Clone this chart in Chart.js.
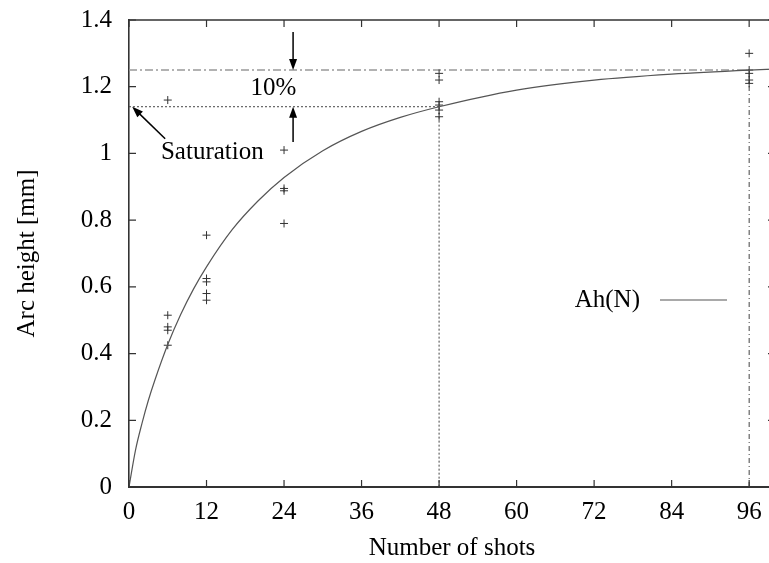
<!DOCTYPE html>
<html>
<head>
<meta charset="utf-8">
<script src="https://cdn.jsdelivr.net/npm/chart.js@4/dist/chart.umd.min.js"></script>
<style>
    html, body { margin: 0; padding: 0; background: #fff; overflow: hidden; }
    #wrap { width: 769px; height: 563px; overflow: hidden; }
    canvas { display: block; }
</style>
</head>
<body>
<div id="wrap"><canvas id="arcChart" width="800" height="563"></canvas></div>
<script>
// Axis ticks
const xTicks = [0, 12, 24, 36, 48, 60, 72, 84, 96];
const yTicks = [0, 0.2, 0.4, 0.6, 0.8, 1, 1.2, 1.4];

// Fitted curve Ah(N)
const curveShots  = [0, 1, 2, 3, 4, 6, 8, 10, 12, 16, 20, 24, 30, 36, 42, 48, 60, 72, 84, 96, 100];
const curveHeight = [0, 0.11, 0.19, 0.26, 0.32, 0.427, 0.517, 0.594, 0.66, 0.772, 0.858, 0.928, 1.008, 1.066,
                     1.108, 1.14, 1.19, 1.22, 1.238, 1.25, 1.253];

// Measured arc heights
const measShots  = [6, 6, 6, 6, 6, 12, 12, 12, 12, 12, 24, 24, 24, 24, 48, 48, 48, 48, 48, 48, 96, 96, 96, 96, 96];
const measHeight = [1.16, 0.515, 0.48, 0.47, 0.425, 0.755, 0.625, 0.615, 0.58, 0.56, 1.01, 0.895, 0.888, 0.79,
                    1.24, 1.22, 1.155, 1.145, 1.13, 1.11, 1.30, 1.25, 1.24, 1.22, 1.21];

// Reference levels
const saturationShots = 48;
const saturationHeight = 1.14;
const plateauShots = 96;
const plateauHeight = 1.25;

const FONT = "'Liberation Serif', 'DejaVu Serif', serif";
const FONT_SIZE = 25;

function pts(xs, ys) {
    return xs.map((x, i) => ({ x: x, y: ys[i] }));
}

// Inward ticks on all four sides, top/right frame, arrows, labels and legend
const decorPlugin = {
    id: 'decor',
    afterDatasetsDraw(chart) {
        const ctx = chart.ctx;
        const a = chart.chartArea;
        const xs = chart.scales.x;
        const ys = chart.scales.y;
        const tl = 7;

        ctx.save();
        ctx.strokeStyle = '#333';
        ctx.lineWidth = 1.6;
        ctx.beginPath();
        ctx.moveTo(a.left, a.top);
        ctx.lineTo(a.right, a.top);
        ctx.lineTo(a.right, a.bottom);
        ctx.stroke();

        ctx.lineWidth = 1.2;
        ctx.beginPath();
        xTicks.forEach(v => {
            const px = xs.getPixelForValue(v);
            ctx.moveTo(px, a.bottom);
            ctx.lineTo(px, a.bottom - tl);
            ctx.moveTo(px, a.top);
            ctx.lineTo(px, a.top + tl);
        });
        yTicks.forEach(v => {
            const py = ys.getPixelForValue(v);
            ctx.moveTo(a.left, py);
            ctx.lineTo(a.left + tl, py);
            ctx.moveTo(a.right, py);
            ctx.lineTo(a.right - tl, py);
        });
        ctx.stroke();

        // arrows
        function arrow(x1, y1, x2, y2) {
            const p1 = { x: xs.getPixelForValue(x1), y: ys.getPixelForValue(y1) };
            const p2 = { x: xs.getPixelForValue(x2), y: ys.getPixelForValue(y2) };
            const ang = Math.atan2(p2.y - p1.y, p2.x - p1.x);
            const hl = 11, hw = 4;
            ctx.strokeStyle = '#000';
            ctx.fillStyle = '#000';
            ctx.lineWidth = 1.5;
            ctx.beginPath();
            ctx.moveTo(p1.x, p1.y);
            ctx.lineTo(p2.x - Math.cos(ang) * hl * 0.8, p2.y - Math.sin(ang) * hl * 0.8);
            ctx.stroke();
            ctx.beginPath();
            ctx.moveTo(p2.x, p2.y);
            ctx.lineTo(p2.x - Math.cos(ang) * hl - Math.sin(ang) * hw, p2.y - Math.sin(ang) * hl + Math.cos(ang) * hw);
            ctx.lineTo(p2.x - Math.cos(ang) * hl + Math.sin(ang) * hw, p2.y - Math.sin(ang) * hl - Math.cos(ang) * hw);
            ctx.closePath();
            ctx.fill();
        }
        arrow(25.4, 1.364, 25.4, plateauHeight);
        arrow(25.4, 1.034, 25.4, saturationHeight);
        arrow(5.6, 1.044, 0.5, saturationHeight);

        ctx.fillStyle = '#000';
        ctx.font = FONT_SIZE + 'px ' + FONT;
        ctx.textBaseline = 'middle';
        ctx.textAlign = 'right';
        ctx.fillText('10%', xs.getPixelForValue(25.9), ys.getPixelForValue(1.196));
        ctx.textAlign = 'center';
        ctx.fillText('Saturation', xs.getPixelForValue(12.9), ys.getPixelForValue(1.004));

        // legend
        ctx.textAlign = 'right';
        ctx.fillText('Ah(N)', 640, 300);
        ctx.strokeStyle = '#555';
        ctx.lineWidth = 1.2;
        ctx.beginPath();
        ctx.moveTo(660, 300);
        ctx.lineTo(727, 300);
        ctx.stroke();
        ctx.restore();
    }
};

new Chart(document.getElementById('arcChart'), {
    type: 'line',
    data: {
        datasets: [
            {
                label: 'Ah(N)',
                data: pts(curveShots, curveHeight),
                borderColor: '#555',
                borderWidth: 1.2,
                pointRadius: 0,
                cubicInterpolationMode: 'monotone',
                fill: false
            },
            {
                type: 'scatter',
                label: 'measured',
                data: pts(measShots, measHeight),
                pointStyle: 'cross',
                pointRadius: 4,
                borderColor: '#333',
                borderWidth: 1
            },
            {
                label: 'plateau',
                data: [{ x: 0, y: plateauHeight }, { x: plateauShots, y: plateauHeight }],
                borderColor: '#999',
                borderWidth: 1.5,
                borderDash: [8, 3, 2, 3],
                pointRadius: 0
            },
            {
                label: 'saturation',
                data: [{ x: 0, y: saturationHeight }, { x: saturationShots, y: saturationHeight }, { x: saturationShots, y: 0 }],
                borderColor: '#444',
                borderWidth: 1,
                borderDash: [2, 2],
                pointRadius: 0
            },
            {
                label: 'plateau shots',
                data: [{ x: plateauShots, y: 0 }, { x: plateauShots, y: plateauHeight }],
                borderColor: '#444',
                borderWidth: 1,
                borderDash: [5, 3, 1, 3],
                pointRadius: 0
            }
        ]
    },
    options: {
        responsive: false,
        animation: false,
        layout: { padding: { left: 0, top: 20, right: 25, bottom: 0 } },
        plugins: {
            legend: { display: false },
            tooltip: { enabled: false }
        },
        scales: {
            x: {
                type: 'linear',
                min: 0,
                max: 100,
                afterBuildTicks: function(scale) {
                    scale.ticks = xTicks.map(v => ({ value: v }));
                },
                afterFit: function(scale) {
                    scale.height = 76;
                    scale.paddingLeft = 0;
                    scale.paddingRight = 0;
                },
                grid: { display: false, drawTicks: false },
                border: { display: true, color: '#333', width: 2 },
                ticks: {
                    color: '#000',
                    font: { family: FONT, size: FONT_SIZE },
                    padding: 10,
                    maxRotation: 0,
                    autoSkip: false
                },
                title: {
                    display: true,
                    text: 'Number of shots',
                    color: '#000',
                    font: { family: FONT, size: FONT_SIZE },
                    padding: { top: 4, bottom: 0 }
                }
            },
            y: {
                min: 0,
                max: 1.4,
                afterBuildTicks: function(scale) {
                    scale.ticks = yTicks.map(v => ({ value: v }));
                },
                afterFit: function(scale) {
                    scale.width = 129;
                    scale.paddingTop = 0;
                    scale.paddingBottom = 0;
                },
                grid: { display: false, drawTicks: false },
                border: { display: true, color: '#333', width: 1.6 },
                ticks: {
                    color: '#000',
                    font: { family: FONT, size: FONT_SIZE },
                    padding: 17,
                    callback: function(value) {
                        return String(Number(value.toFixed(1)));
                    }
                },
                title: {
                    display: true,
                    text: 'Arc height [mm]',
                    color: '#000',
                    font: { family: FONT, size: FONT_SIZE },
                    padding: { top: 12, bottom: 0 }
                }
            }
        }
    },
    plugins: [decorPlugin]
});
</script>
</body>
</html>
